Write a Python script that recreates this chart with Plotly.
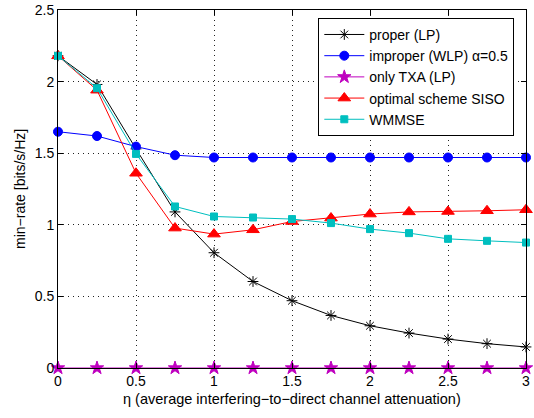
import plotly.graph_objects as go

eta = [0, 0.25, 0.5, 0.75, 1, 1.25, 1.5, 1.75, 2, 2.25, 2.5, 2.75, 3]
proper_lp = [2.18, 1.98, 1.53, 1.09, 0.805, 0.604, 0.47, 0.367, 0.295, 0.244, 0.202, 0.17, 0.147]
improper_wlp = [1.65, 1.62, 1.546, 1.486, 1.47, 1.47, 1.47, 1.47, 1.47, 1.47, 1.47, 1.47, 1.47]
only_txa = [0, 0, 0, 0, 0, 0, 0, 0, 0, 0, 0, 0, 0]
optimal_siso = [2.18, 1.94, 1.36, 0.977, 0.935, 0.965, 1.023, 1.047, 1.075, 1.09, 1.093, 1.098, 1.105]
wmmse = [2.18, 1.954, 1.495, 1.128, 1.058, 1.051, 1.04, 1.012, 0.97, 0.942, 0.902, 0.888, 0.876]

names = ["proper (LP)", "improper (WLP) α=0.5", "only TXA (LP)", "optimal scheme SISO", "WMMSE"]
series = [proper_lp, improper_wlp, only_txa, optimal_siso, wmmse]
colors = ["#000000", "#0000ff", "#bf00bf", "#ff0000", "#00bfbf"]
symbols = ["asterisk-open", "circle", "star", "triangle-up", "square"]
sizes = [9, 9, 10, 11, 7]

x_title = "η (average interfering−to−direct channel attenuation)"
y_title = "min−rate [bits/s/Hz]"

FONT = "Liberation Sans, Arial, sans-serif"

fig = go.Figure()
for n, s, c, sym, sz in zip(names, series, colors, symbols, sizes):
    fig.add_trace(go.Scatter(
        x=eta, y=s, name=n, mode="lines+markers", cliponaxis=False,
        line=dict(color=c, width=1),
        marker=dict(symbol=sym, size=sz, color=c, line=dict(color=c, width=1)),
    ))

axis_common = dict(
    showline=True, linecolor="black", linewidth=1, mirror="ticks",
    ticks="inside", ticklen=5, tickcolor="black",
    showgrid=True, gridcolor="#222222", griddash="1px,4px", gridwidth=1,
    zeroline=False, automargin=False,
    tickfont=dict(family=FONT, size=14, color="black"),
)

fig.update_xaxes(range=[0, 3], tickvals=[0, 0.5, 1, 1.5, 2, 2.5, 3],
                 ticktext=["0", "0.5", "1", "1.5", "2", "2.5", "3"],
                 **axis_common)
fig.update_yaxes(range=[0, 2.5], tickvals=[0, 0.5, 1, 1.5, 2, 2.5],
                 ticktext=["0", "0.5", "1", "1.5", "2", "2.5"],
                 **axis_common)

fig.add_annotation(text=x_title, xref="paper", yref="paper", x=0.5, y=-31 / 358,
                   xanchor="center", yanchor="middle", showarrow=False,
                   font=dict(family=FONT, size=14.5, color="black"))
fig.add_annotation(text=y_title, xref="paper", yref="paper", x=-38 / 468, y=0.5,
                   xanchor="center", yanchor="middle", showarrow=False, textangle=-90,
                   font=dict(family=FONT, size=14, color="black"))

fig.update_layout(
    width=534, height=418,
    margin=dict(l=58, r=8, t=10, b=50),
    paper_bgcolor="white", plot_bgcolor="white",
    font=dict(family=FONT, size=14, color="black"),
    legend=dict(x=0.975, y=0.978, xanchor="right", yanchor="top",
                bgcolor="white", bordercolor="black", borderwidth=1,
                font=dict(size=14), tracegroupgap=0, itemwidth=40),
    showlegend=True,
)

fig.write_html("out.html")
